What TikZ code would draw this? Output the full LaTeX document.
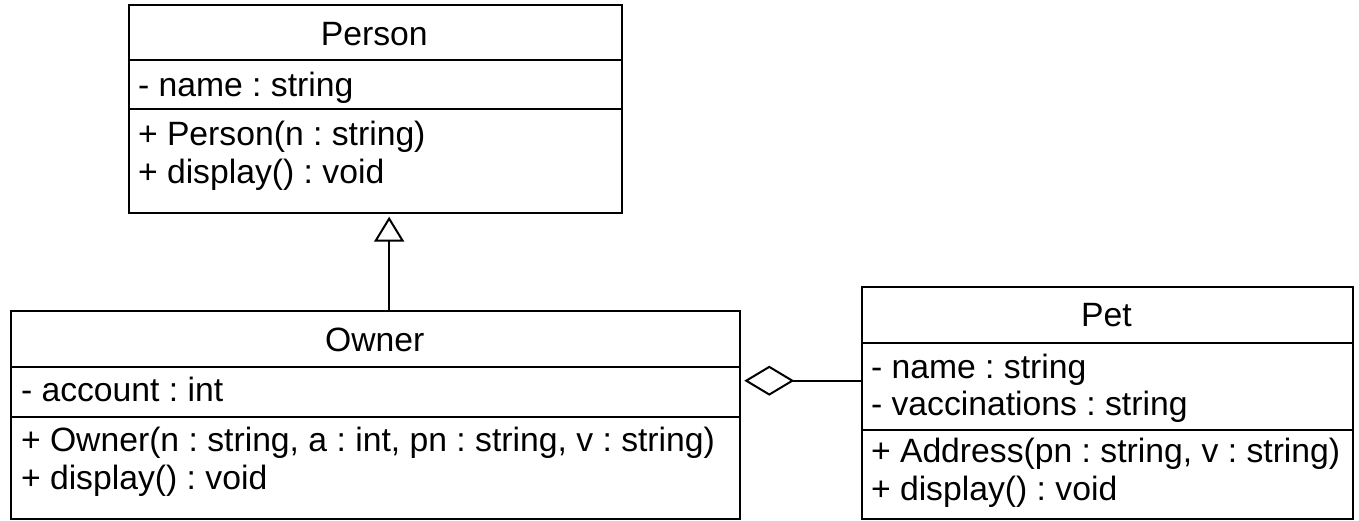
\documentclass[tikz,border=0pt]{standalone}
\usepackage{fontspec}
\setmainfont{Liberation Sans}
\usetikzlibrary{arrows.meta}
\frenchspacing

\begin{document}
\begin{tikzpicture}[x=1pt,y=-1pt,line width=2pt]
\tikzstyle{compart}=[draw,rectangle,anchor=north west,inner sep=0pt]
\tikzstyle{member}=[anchor=base west,inner sep=0pt,font=\fontsize{33.7}{38}\selectfont]
\tikzstyle{classname}=[member,anchor=base]
\tikzstyle{inherit}=[-{Triangle[open,length=25pt,width=30pt]},shorten >=3pt]
\tikzstyle{aggregate}=[{Diamond[open,length=50pt,width=30pt]}-,shorten <=3pt]

% Fix the canvas
\useasboundingbox (0,0) rectangle (1359,520);

% Draw the Person class
\node[compart,minimum width=493pt,minimum height=55.3pt] (person-head) at (127.7,4) {};
\node[compart,minimum width=493pt,minimum height=48.4pt] (person-attr) at (127.7,59.3) {};
\node[compart,minimum width=493pt,minimum height=104pt] (person-ops) at (127.7,107.7) {};
\node[classname] (person-title) at (374.2,45) {Person};
\node[member] (person-a1) at (137,96) {- name : string};
\node[member] (person-o1) at (137,145) {+ Person(n : string)};
\node[member] (person-o2) at (137,183.5) {+ display() : void};

% Draw the Owner class
\node[compart,minimum width=729.3pt,minimum height=55.7pt] (owner-head) at (10,310) {};
\node[compart,minimum width=729.3pt,minimum height=50pt] (owner-attr) at (10,365.7) {};
\node[compart,minimum width=729.3pt,minimum height=102.3pt] (owner-ops) at (10,415.7) {};
\node[classname] (owner-title) at (374.7,351.7) {Owner};
\node[member] (owner-a1) at (20,401.5) {- account : int};
\node[member] (owner-o1) at (20,451.5) {+ Owner(n : string, a : int, pn : string, v : string)};
\node[member] (owner-o2) at (20,489.5) {+ display() : void};

% Draw the Pet class
\node[compart,minimum width=491.3pt,minimum height=55.7pt] (pet-head) at (860.7,286) {};
\node[compart,minimum width=491.3pt,minimum height=87.6pt] (pet-attr) at (860.7,341.7) {};
\node[compart,minimum width=491.3pt,minimum height=88.7pt] (pet-ops) at (860.7,429.3) {};
\node[classname] (pet-title) at (1106.4,326.7) {Pet};
\node[member] (pet-a1) at (870,378) {- name : string};
\node[member] (pet-a2) at (870,415.5) {- vaccinations : string};
\node[member] (pet-o1) at (870,462.5) {+ Address(pn : string, v : string)};
\node[member] (pet-o2) at (870,500) {+ display() : void};

% Owner inherits from Person
\draw[inherit] ([xshift=13.5pt]owner-head.north) -- ([xshift=13.5pt]owner-head.north |- person-ops.south);

% Owner aggregates Pet
\coordinate (agg) at (0,380.7);
\draw[aggregate] (owner-attr.east |- agg) -- (pet-attr.west |- agg);

\end{tikzpicture}
\end{document}
